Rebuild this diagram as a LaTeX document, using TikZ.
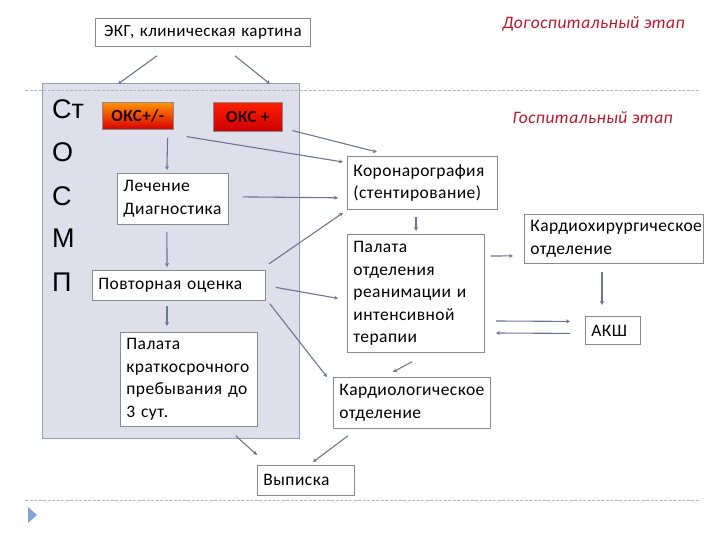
\documentclass[tikz,border=0pt]{standalone}
\usepackage{fontspec}
\setmainfont{Carlito}[LetterSpace=2.5]
\newfontfamily\bigfont{Liberation Sans}
\usetikzlibrary{arrows.meta,calc}
\definecolor{arr}{HTML}{6E7493}
\definecolor{boxline}{HTML}{8A8A8A}
\definecolor{panelfill}{HTML}{DDE0EB}
\definecolor{panelline}{HTML}{9A9DB0}
\definecolor{stage}{HTML}{C0142C}
\definecolor{dash}{HTML}{B8B8B8}
\definecolor{bullet}{HTML}{7FA6D2}
\tikzset{
  box/.style={draw=boxline, fill=white, line width=0.8pt, anchor=north west,
    inner xsep=6pt, inner ysep=2pt, align=left,
    font=\fontsize{17.5}{22.5}\selectfont},
  okc/.style={draw=boxline, line width=0.6pt, anchor=north west, inner sep=0pt,
    font=\fontsize{17}{20}\selectfont\bfseries, text=black!85!red},
  big/.style={anchor=west, inner sep=0pt, font=\bigfont\fontsize{27}{27}\selectfont},
  stagelbl/.style={anchor=east, inner sep=0pt, text=stage,
    font=\fontsize{17.5}{20}\selectfont\itshape},
  conn/.style={draw=arr, line width=1.1pt, -{Stealth[length=4pt,width=4pt]}},
  sep/.style={draw=dash, line width=0.7pt, dash pattern=on 3pt off 1.5pt}
}
\begin{document}
\begin{tikzpicture}[x=1pt,y=-1pt]
\useasboundingbox (0,0) rectangle (720,540);

% panel
\node[draw=panelline, fill=panelfill, line width=0.8pt, anchor=north west,
      minimum width=257pt, minimum height=355pt, inner sep=0pt] (panel) at (42,83) {};

% separators
\draw[sep] (25,90) -- (700,90);
\draw[sep] (25,500) -- (700,500);
\fill[bullet] (28,507) -- (37,515) -- (28,523) -- cycle;

% stage labels
\node[stagelbl] (pre) at (685,24) {Догоспитальный этап};
\node[stagelbl] (hosp) at (673,118) {Госпитальный этап};

% big letters
\node[big] (l1) at (52,109) {Ст};
\node[big] (l2) at (52,152) {О};
\node[big] (l3) at (52,196) {С};
\node[big] (l4) at (52,238) {М};
\node[big] (l5) at (52,282) {П};

% boxes
\node[box, text width=203pt, minimum height=28pt, align=center,
      font=\fontsize{17}{20}\selectfont] (ekg) at (95,18) {ЭКГ, клиническая картина};
\node[okc, minimum width=71pt, minimum height=27pt,
      top color=orange!85!yellow, bottom color=red!85!black] (okcpm) at (102,102) {ОКС+/-};
\node[okc, minimum width=69pt, minimum height=29pt,
      top color=red!75!orange, bottom color=red!80!black] (okcp) at (213,102) {ОКС +};
\node[box, text width=99pt, minimum height=51pt] (lech) at (117,173) {Лечение\\Диагностика};
\node[box, text width=161pt, minimum height=30pt] (povt) at (92,270) {Повторная оценка};
\node[box, text width=125pt, minimum height=94pt] (palk) at (120,332)
      {Палата\\краткосрочного\\пребывания до\\3 сут.};
\node[box, text width=138pt, minimum height=53pt] (koro) at (347,156)
      {Коронарография\\(стентирование)};
\node[box, text width=125pt, minimum height=118pt] (palo) at (347,234)
      {Палата\\отделения\\реанимации и\\интенсивной\\терапии};
\node[box, text width=167pt, minimum height=49pt] (kardh) at (524,214)
      {Кардиохирургическое\\отделение};
\node[box, text width=43pt, minimum height=28pt] (aksh) at (585,316) {АКШ};
\node[box, text width=145pt, minimum height=51pt] (kardl) at (333,377)
      {Кардиологическое\\отделение};
\node[box, text width=85pt, minimum height=30pt] (vyp) at (257,465) {Выписка};

% connectors
\draw[conn] ($(ekg.south west)+(62,9)$) -- ($(panel.north west)+(76,1)$);
\draw[conn] ($(ekg.south west)+(140,9)$) -- ($(panel.north west)+(228,1)$);
\draw[conn] ($(okcpm.south east)+(-6,8)$) -- ($(lech.north)+(-6,-3)$);
\draw[conn] ($(lech.south)+(-6,7)$) -- ($(povt.north west)+(75,-3)$);
\draw[conn] ($(povt.south west)+(75,5)$) -- ($(palk.north west)+(47,-6)$);
\draw[conn] ($(okcp.south east)+(10,-1)$) -- ($(koro.north west)+(30,-4)$);
\draw[conn] ($(okcpm.south east)+(13,7)$) -- ($(koro.north west)+(-4,6)$);
\draw[conn] ($(lech.east)+(14,-2)$) -- ($(koro.south west)+(-9,-12)$);
\draw[conn] ($(povt.north east)+(3,-6)$) -- ($(koro.south west)+(-4,3)$);
\draw[conn] ($(povt.east)+(10,2)$) -- ($(palo.west)+(-9,5)$);
\draw[conn] ($(povt.south east)+(4,3)$) -- ($(kardl.north west)+(-6,0)$);
\draw[conn] ($(koro.south west)+(69,7)$) -- ($(palo.north west)+(69,-3)$);
\draw[conn] ($(palo.north east)+(6,22)$) -- ($(kardh.west)+(-11,17)$);
\draw[conn] ($(kardh.south west)+(78,8)$) -- ($(aksh.north west)+(17,-11)$);
\draw[conn] ($(palo.north east)+(11,87)$) -- ($(aksh.west)+(-15,-9)$);
\draw[conn] ($(aksh.west)+(-15,3)$) -- ($(palo.north east)+(11,99)$);
\draw[conn] ($(palo.south west)+(65,9)$) -- ($(kardl.north west)+(60,-5)$);
\draw[conn] ($(palk.south east)+(-22,9)$) -- ($(vyp.north west)+(0,-10)$);
\draw[conn] ($(kardl.south west)+(15,7)$) -- ($(vyp.north west)+(56,-3)$);
\end{tikzpicture}
\end{document}
